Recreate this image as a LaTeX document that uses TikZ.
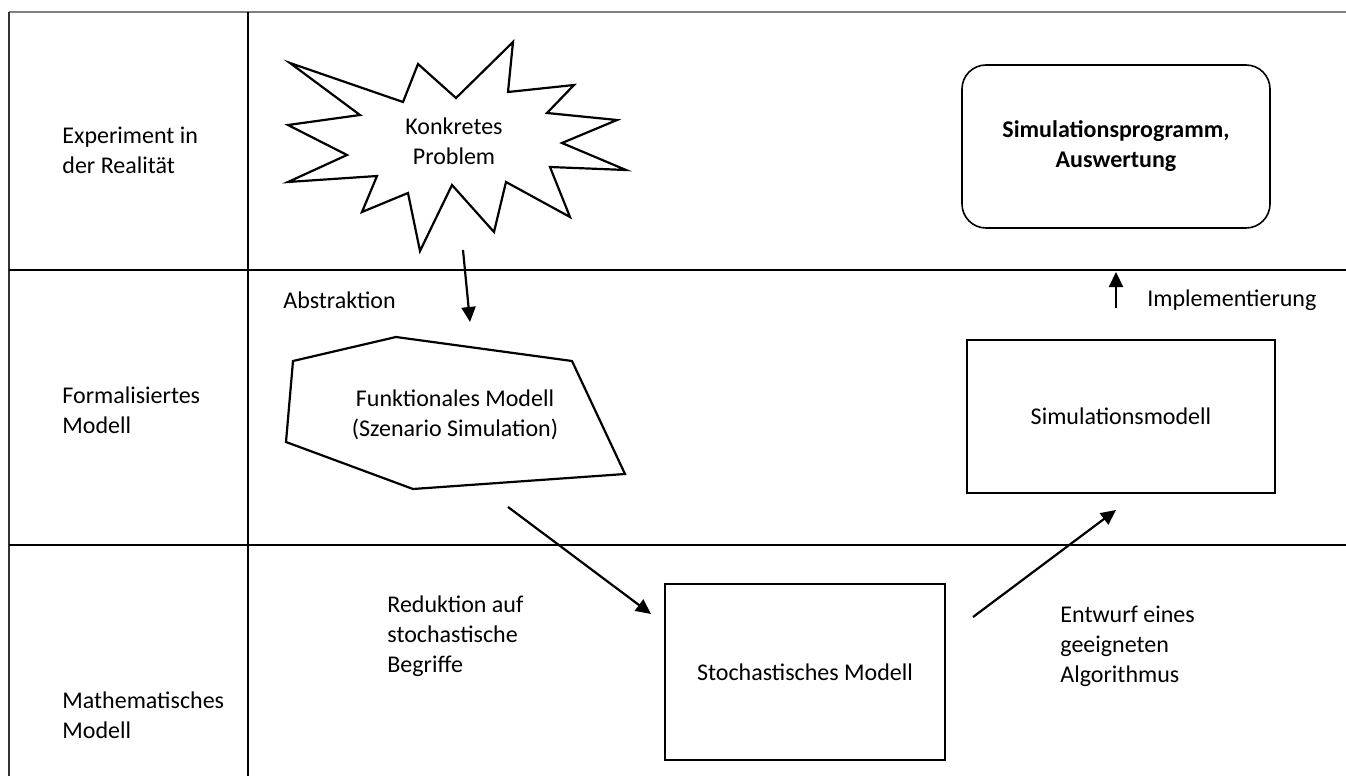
\documentclass[tikz,border=0pt]{standalone}
\usepackage{fontspec}
\setmainfont{Carlito}
\usetikzlibrary{arrows.meta}

\begin{document}
\begin{tikzpicture}[
  x=0.5pt, y=-0.5pt,
  lbl/.style={
    font=\fontsize{12}{15}\selectfont,
    align=left, anchor=west, inner sep=0pt
  },
  txt/.style={
    font=\fontsize{12}{15}\selectfont,
    align=center, inner sep=0pt
  },
  divider/.style={line width=1pt},
  outline/.style={draw, line width=1.1pt, line join=miter},
  flow/.style={
    -{Triangle[length=7.5pt,width=7pt]}, line width=1.1pt
  }
]
  \useasboundingbox (0,0) rectangle (1346,776);

  % Frame and lane grid
  \draw[gray, line width=0.7pt] (9,12) -- (1346,12);
  \draw[black!80, line width=0.6pt] (9,12) -- (9,776);
  \draw[divider] (248,12) -- (248,776);
  \draw[divider] (9,270) -- (1346,270);
  \draw[divider] (9,545) -- (1346,545);

  % Lane labels
  \node[lbl] (realitaet) at (62,150) {Experiment in\\der Realität};
  \node[lbl] (formal) at (62,410) {Formalisiertes\\Modell};
  \node[lbl] (mathe) at (62,715) {Mathematisches\\Modell};

  % Starburst: concrete problem
  \draw[outline] (290,63) -- (403,102) -- (418,64) -- (456,98)
    -- (513,42) -- (508,92) -- (574,85) -- (547,113) -- (617,120)
    -- (562,143) -- (626,170) -- (550,167) -- (570,217) -- (506,182)
    -- (494,232) -- (452,185) -- (420,251) -- (408,193) -- (362,212)
    -- (377,176) -- (288,182) -- (347,155) -- (288,125) -- (360,115)
    -- cycle;
  \node[txt] (problem) at (454,141) {Konkretes\\Problem};

  % Irregular polygon: functional model
  \draw[outline] (293,361) -- (396,337) -- (572,361) -- (625,474)
    -- (413,489) -- (286,442) -- cycle;
  \node[txt] (funktional) at (455,415)
    {Funktionales Modell\\(Szenario Simulation)};

  % Boxes
  \node[outline, txt, minimum width=140pt, minimum height=88pt]
    (stoch) at (805,672) {Stochastisches Modell};
  \node[outline, txt, minimum width=154pt, minimum height=76.5pt]
    (simmodell) at (1121,416.5) {Simulationsmodell};
  \node[draw, line width=0.8pt, rounded corners=12pt, txt,
    minimum width=154pt, minimum height=81.5pt,
    font=\fontsize{12}{15}\selectfont\bfseries]
    (programm) at (1116,146.5) {Simulationsprogramm,\\Auswertung};

  % Arrow end points
  \coordinate (abstr-a) at (463,250);
  \coordinate (abstr-b) at (470,322);
  \coordinate (red-a) at (508,507);
  \coordinate (red-b) at (651,614);
  \coordinate (entw-a) at (973,617);
  \coordinate (entw-b) at (1116,510);
  \coordinate (impl-a) at (1116,308);
  \coordinate (impl-b) at (1116,272);

  % Connectors
  \draw[flow] (abstr-a) -- (abstr-b);
  \draw[flow] (red-a) -- (red-b);
  \draw[flow] (entw-a) -- (entw-b);
  \draw[flow] (impl-a) -- (impl-b);

  % Connector labels
  \node[lbl] (abstraktion) at (283,300) {Abstraktion};
  \node[lbl] (implement) at (1147,300) {Implementierung};
  \node[lbl] (reduktion) at (387,636)
    {Reduktion auf\\stochastische\\Begriffe};
  \node[lbl] (entwurf) at (1060,646)
    {Entwurf eines\\geeigneten\\Algorithmus};
\end{tikzpicture}
\end{document}
